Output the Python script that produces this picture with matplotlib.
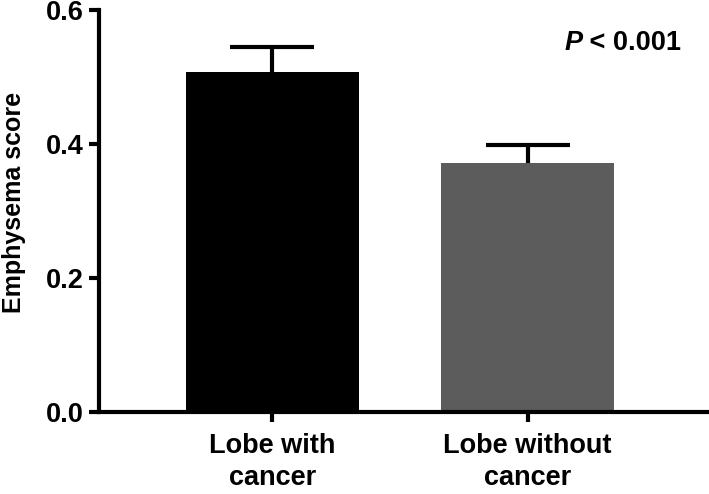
import numpy as np
import matplotlib.pyplot as plt

plt.rcParams['font.family'] = ['Liberation Sans', 'DejaVu Sans']
plt.rcParams['font.weight'] = 'bold'

groups = ['Lobe with\ncancer', 'Lobe without\ncancer']
means = [0.507, 0.372]
sem = [0.038, 0.026]
colors = ['#000000', '#5c5c5c']

fig = plt.figure(figsize=(7.09, 4.94), dpi=100)
ax = fig.add_axes([0.1396, 0.166, 0.86, 0.814])

x = np.arange(len(groups))
ax.bar(x, means, width=0.68, color=colors, zorder=2)
_, caps, _ = ax.errorbar(x, means, yerr=[np.zeros(len(sem)), sem], fmt='none',
                         ecolor='black', elinewidth=3, capsize=30, capthick=3,
                         zorder=1)
caps[0].set_visible(False)  # only the upper cap

ax.set_ylim(0, 0.6)
ax.set_xlim(-0.68, 1.71)
ax.set_yticks([0.0, 0.2, 0.4, 0.6])
ax.set_yticklabels(['0.0', '0.2', '0.4', '0.6'])
ax.set_xticks(x)
ax.set_xticklabels(groups, fontsize=19.5, fontweight='bold', linespacing=1.3)
ax.tick_params(axis='y', labelsize=19.5, width=3, length=7, pad=4)
ax.tick_params(axis='x', width=3, length=7, pad=8)
ax.set_ylabel('Emphysema score', fontsize=18, fontweight='bold')
ax.yaxis.set_label_coords(-0.12, 0.52)

for s in ['top', 'right']:
    ax.spines[s].set_visible(False)
for s in ['left', 'bottom']:
    ax.spines[s].set_linewidth(3)

ax.text(1.215, 0.551, 'P', fontsize=19.5, fontweight='bold', style='italic',
        ha='right', va='center')
ax.text(1.215, 0.551, ' < 0.001', fontsize=19.5, fontweight='bold',
        ha='left', va='center')

fig.savefig('out.png', dpi=100)
